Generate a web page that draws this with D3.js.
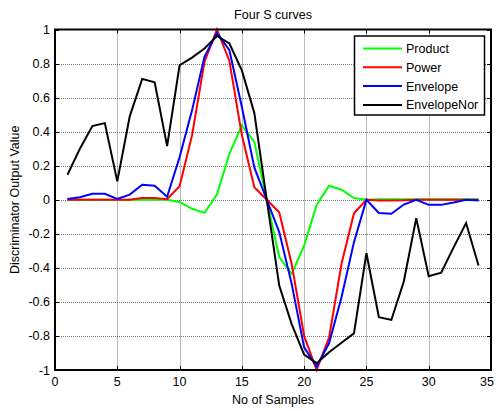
<!DOCTYPE html>
<html><head><meta charset="utf-8">
<script src="https://cdn.jsdelivr.net/npm/d3@7"></script>
<style>body{margin:0;background:#fff}svg{display:block}text{font-family:"Liberation Sans",Arial,sans-serif}</style>
</head><body>
<svg id="c" width="496" height="411"></svg>
<script>
const samples = d3.range(1, 35);
const product = [0,0,0,0,0,0,0,0,0,-0.013,-0.053,-0.077,0.03,0.27,0.437,0.34,0,-0.337,-0.435,-0.269,-0.03,0.082,0.059,0.01,0,0.003,0.003,0.003,0.003,0.003,0.003,0.003,0.003,0.003];
const power = [0,0,0,0,0,0,0.01,0.01,0.003,0.08,0.378,0.81,1.0,0.815,0.38,0.074,0,-0.073,-0.377,-0.8,-1.0,-0.81,-0.376,-0.079,0,-0.005,-0.005,-0.003,0,0,0,0,0,0];
const envelope = [0.005,0.015,0.035,0.035,0.005,0.03,0.088,0.082,0.018,0.25,0.525,0.84,0.98,0.878,0.545,0.19,0,-0.19,-0.494,-0.867,-0.98,-0.843,-0.573,-0.249,0,-0.078,-0.082,-0.028,0,-0.03,-0.03,-0.016,0,-0.005];
const envelopeNor = [0.147,0.30,0.433,0.45,0.108,0.49,0.71,0.69,0.315,0.79,0.835,0.888,0.962,0.918,0.76,0.51,0,-0.504,-0.73,-0.91,-0.96,-0.896,-0.84,-0.785,-0.314,-0.69,-0.706,-0.48,-0.108,-0.449,-0.428,-0.28,-0.137,-0.386];
const seriesNames = ["Product","Power","Envelope","EnvelopeNor"];
const seriesColors = ["#00ff00","#ff0000","#0000ff","#000000"];
const seriesData = [product, power, envelope, envelopeNor];
const xTicks = [0,5,10,15,20,25,30,35];
const yTicks = [-1,-0.8,-0.6,-0.4,-0.2,0,0.2,0.4,0.6,0.8,1];

const svg = d3.select("#c");
const L=55, R=491, T=29.5, B=370;
const x = d3.scaleLinear().domain([0,35]).range([L,R]);
const y = d3.scaleLinear().domain([-1,1]).range([B,T]);

// grid
const g = svg.append("g");
g.selectAll(".gx").data(xTicks.slice(1,-1)).join("line")
  .attr("x1",d=>Math.round(x(d))+0.5).attr("x2",d=>Math.round(x(d))+0.5)
  .attr("y1",T).attr("y2",B).attr("stroke","#777").attr("stroke-width",1).attr("stroke-dasharray","1,1");
g.selectAll(".gy").data(yTicks.slice(1,-1)).join("line")
  .attr("y1",d=>Math.round(y(d))+0.5).attr("y2",d=>Math.round(y(d))+0.5)
  .attr("x1",L).attr("x2",R).attr("stroke","#777").attr("stroke-width",1).attr("stroke-dasharray","1,1");

// ticks inward on all sides
const tl = 4;
const ax = svg.append("g").attr("stroke","#000").attr("stroke-width",1);
xTicks.forEach(d=>{
  const px = Math.round(x(d))+0.5;
  ax.append("line").attr("x1",px).attr("x2",px).attr("y1",B).attr("y2",B-tl);
  ax.append("line").attr("x1",px).attr("x2",px).attr("y1",T).attr("y2",T+tl);
});
yTicks.forEach(d=>{
  const py = Math.round(y(d))+0.5;
  ax.append("line").attr("y1",py).attr("y2",py).attr("x1",L).attr("x2",L+tl);
  ax.append("line").attr("y1",py).attr("y2",py).attr("x1",R).attr("x2",R-tl);
});

// lines
const line = d3.line().x((d,i)=>x(samples[i])).y(d=>y(d));
seriesData.forEach((s,k)=>{
  svg.append("path").datum(s).attr("d",line).attr("fill","none")
    .attr("stroke",seriesColors[k]).attr("stroke-width",2).attr("stroke-linejoin","miter");
});

// box
svg.append("rect").attr("x",L).attr("y",T).attr("width",R-L).attr("height",B-T)
  .attr("fill","none").attr("stroke","#000").attr("stroke-width",2);

// tick labels
svg.selectAll(".xl").data(xTicks).join("text")
  .attr("x",d=>Math.min(x(d),487)).attr("y",B+16).attr("text-anchor","middle").attr("font-size",12.5).text(d=>d);
svg.selectAll(".yl").data(yTicks).join("text")
  .attr("x",L-5).attr("y",d=>y(d)+4.5).attr("text-anchor","end").attr("font-size",12.5).text(d=>d);

// titles
svg.append("text").attr("x",(L+R)/2).attr("y",19).attr("text-anchor","middle").attr("font-size",12.5).text("Four S curves");
svg.append("text").attr("x",(L+R)/2).attr("y",404).attr("text-anchor","middle").attr("font-size",12.5).text("No of Samples");
svg.append("text").attr("transform",`translate(19,${(T+B)/2}) rotate(-90)`).attr("text-anchor","middle").attr("font-size",12.5).text("Discriminator Output Value");

// legend
const lg = svg.append("g");
lg.append("rect").attr("x",354.5).attr("y",36).attr("width",130).attr("height",79)
  .attr("fill","#fff").attr("stroke","#000").attr("stroke-width",1.5);
seriesNames.forEach((n,k)=>{
  const yy = 48.5 + k*18.8;
  lg.append("line").attr("x1",363).attr("x2",402).attr("y1",yy).attr("y2",yy)
    .attr("stroke",seriesColors[k]).attr("stroke-width",2);
  lg.append("text").attr("x",406).attr("y",yy+4.5).attr("font-size",12.5).text(n);
});
</script>
</body></html>
